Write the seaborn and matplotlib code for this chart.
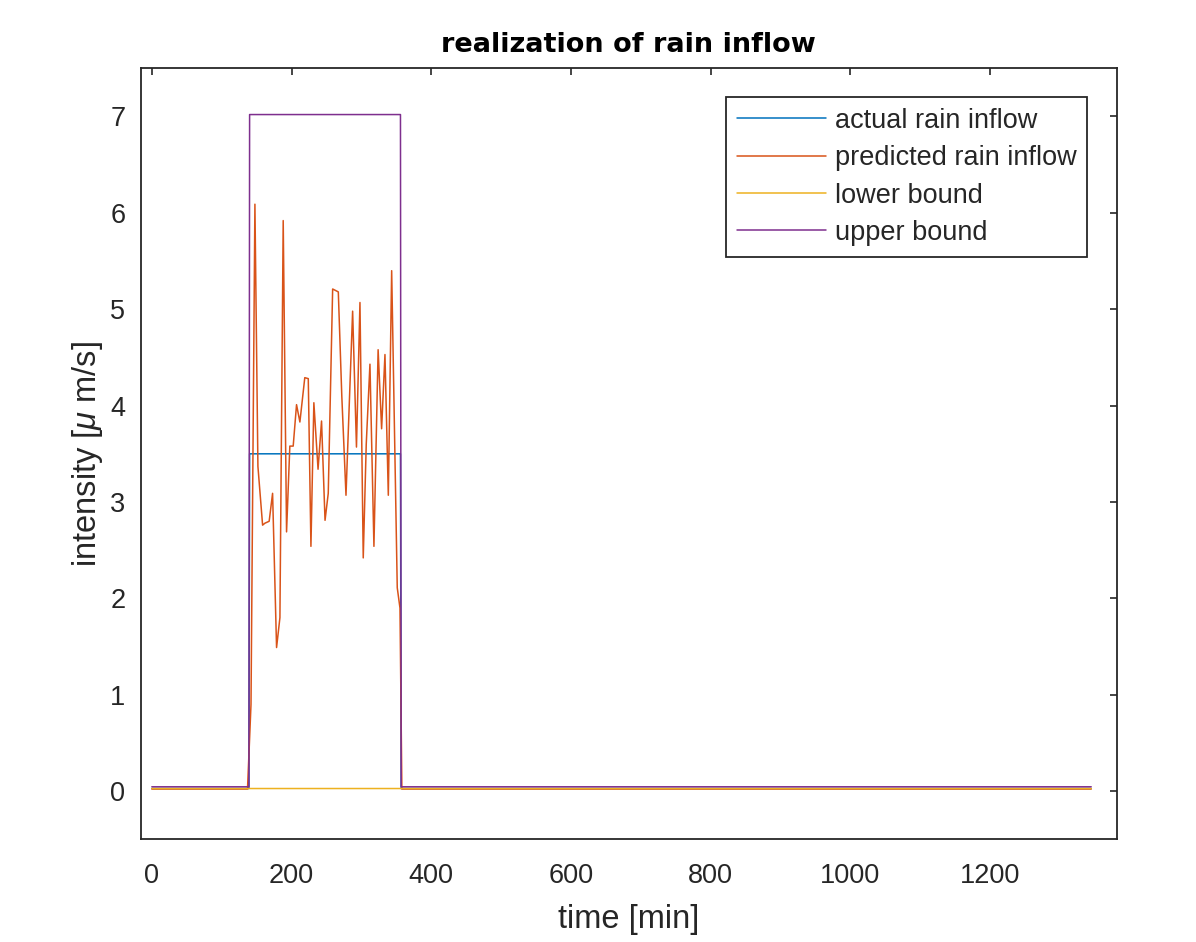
import numpy as np
import pandas as pd
import matplotlib
matplotlib.use("Agg")
import matplotlib.pyplot as plt
import seaborn as sns

# time grid of the simulation [min]
t_end = 1345
rain_start = 140
rain_end = 356

# levels
actual_level_rain = 3.5
actual_level_dry = 0.027
upper_level_rain = 7.02
upper_level_dry = 0.045
lower_level = 0.027

# predicted rain inflow (time [min], intensity)
pred_t = [0, 137, 142, 147.6, 151.9, 158.6, 161.9, 168, 172.9, 178.6, 183.4, 188.1,
          192.9, 197.6, 202.4, 207.2, 212, 219, 224, 227.8, 232, 238, 243, 248,
          252.6, 258.9, 267, 272, 278, 287.5, 293, 298, 302.7, 307, 312.3, 318,
          324, 329, 333.8, 338.6, 343.4, 351.4, 355.3, 358, 1345]
pred_v = [0.022, 0.022, 0.9, 6.09, 3.37, 2.76, 2.78, 2.8, 3.09, 1.49, 1.8, 5.92,
          2.69, 3.58, 3.58, 4.01, 3.83, 4.29, 4.28, 2.54, 4.03, 3.34, 3.84, 2.81,
          3.09, 5.21, 5.18, 4.1, 3.07, 4.98, 3.57, 5.07, 2.42, 3.6, 4.43, 2.54,
          4.58, 3.76, 4.53, 3.07, 5.40, 2.11, 1.9, 0.022, 0.022]

t = np.arange(0, t_end + 1, 1)
in_rain = (t >= rain_start) & (t <= rain_end)
actual = np.where(in_rain, actual_level_rain, actual_level_dry)
upper = np.where(in_rain, upper_level_rain, upper_level_dry)
lower = np.full(t.shape, lower_level)

colors = {
    "actual rain inflow": "#0072BD",
    "predicted rain inflow": "#D95319",
    "lower bound": "#EDB120",
    "upper bound": "#7E2F8E",
}

sns.set_style("white")
plt.rcParams["font.family"] = ["Liberation Sans", "DejaVu Sans"]
plt.rcParams["mathtext.fontset"] = "custom"
plt.rcParams["mathtext.it"] = "Liberation Sans:italic"
plt.rcParams["mathtext.rm"] = "Liberation Sans"

fig = plt.figure(figsize=(11.96, 9.42), dpi=100)
ax = fig.add_axes([0.1176, 0.109, 0.8164, 0.8185])

lw = 1.1
sns.lineplot(x=t, y=actual, color=colors["actual rain inflow"], lw=lw,
             label="actual rain inflow", estimator=None, sort=False, ax=ax)
sns.lineplot(x=pred_t, y=pred_v, color=colors["predicted rain inflow"], lw=lw,
             label="predicted rain inflow", estimator=None, sort=False, ax=ax)
sns.lineplot(x=t, y=lower, color=colors["lower bound"], lw=lw,
             label="lower bound", estimator=None, sort=False, ax=ax)
sns.lineplot(x=t, y=upper, color=colors["upper bound"], lw=lw,
             label="upper bound", estimator=None, sort=False, ax=ax)

ax.set_xlim(-16, 1382)
ax.set_ylim(-0.5, 7.5)
ax.set_xticks(range(0, 1201, 200))
ax.set_yticks(range(0, 8))

dark = "#262626"
for s in ax.spines.values():
    s.set_color(dark)
    s.set_linewidth(1.3)
ax.tick_params(direction="in", length=5, width=1.2, colors=dark,
               top=True, right=True, labelsize=19.5)
ax.tick_params(axis="x", pad=17)
ax.tick_params(axis="y", pad=11)

ax.set_title("realization of rain inflow", fontsize=19.5, fontweight="bold",
             family=["DejaVu Sans"], color="black", pad=12)
ax.set_xlabel("time [min]", fontsize=23.5, color=dark, labelpad=11)
ax.set_ylabel(r"intensity [$\mu$ m/s]", fontsize=23.5, color=dark, labelpad=4)

leg = ax.legend(loc="upper right", bbox_to_anchor=(0.9693, 0.9628), fontsize=19.5,
                frameon=True, fancybox=False, framealpha=1, edgecolor=dark,
                handlelength=3.3, handletextpad=0.3, labelspacing=0.42,
                borderpad=0.4, borderaxespad=0)
leg.get_frame().set_linewidth(1.3)
for txt in leg.get_texts():
    txt.set_color(dark)

fig.savefig("out.png", dpi=100)
plt.close(fig)
